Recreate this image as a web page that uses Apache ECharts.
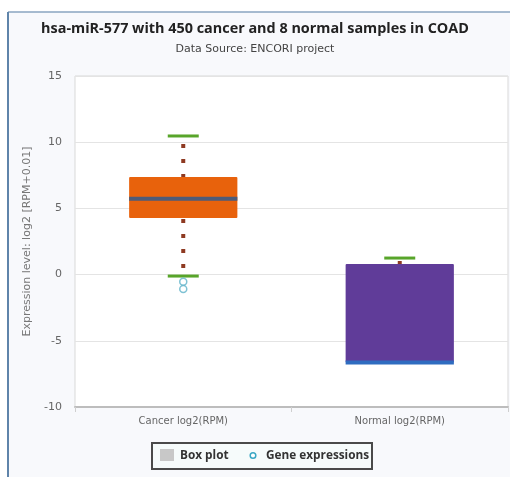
<!DOCTYPE html>
<html>
<head>
<meta charset="utf-8">
<script src="https://cdn.jsdelivr.net/npm/echarts@6/dist/echarts.min.js"></script>
<style>
  html, body { margin: 0; padding: 0; background: #ffffff; }
  #chart { width: 510px; height: 477px; }
</style>
</head>
<body>
<div id="chart"></div>
<script>
// Sample groups shown on the x axis
const categories = ['Cancer log2(RPM)', 'Normal log2(RPM)'];
// Five-number summaries per group: lower whisker, Q1, median, Q3, upper whisker
const lowerWhisker = [-0.11, -6.64];
const q1Values     = [4.27, -6.64];
const medians      = [5.72, -6.64];
const q3Values     = [7.37, 0.80];
const upperWhisker = [10.47, 1.25];
// Individual expression values beyond the whiskers: [group index, value]
const outliers = [[0, -0.54], [0, -1.09]];
// Y axis ticks
const yTicks = { min: -10, max: 15, step: 5 };
// Box fill and median colours per group
const boxColors = ['#e8620c', '#603c99'];
const medianColors = ['#4d5b78', '#2f6cc0'];

const boxData = categories.map((c, i) => [i, lowerWhisker[i], q1Values[i], medians[i], q3Values[i], upperWhisker[i]]);

function renderBox(params, api) {
  const idx = api.value(0);
  const low = api.coord([idx, api.value(1)]);
  const q1 = api.coord([idx, api.value(2)]);
  const med = api.coord([idx, api.value(3)]);
  const q3 = api.coord([idx, api.value(4)]);
  const high = api.coord([idx, api.value(5)]);
  const band = api.size([1, 0])[0];
  const boxW = band * 0.5;
  const capW = 31;
  const cx = q3[0];
  const dotStyle = { stroke: '#8e3a22', lineWidth: 4, lineDash: [4, 11], fill: null };
  const children = [];
  if (high[1] < q3[1]) {
    children.push({ type: 'line', shape: { x1: cx, y1: q3[1] + 1, x2: cx, y2: high[1] }, style: dotStyle });
  }
  if (low[1] > q1[1]) {
    children.push({ type: 'line', shape: { x1: cx, y1: q1[1] + 1, x2: cx, y2: low[1] }, style: dotStyle });
  }
  children.push({
    type: 'rect',
    shape: { x: cx - boxW / 2, y: q3[1], width: boxW, height: Math.max(q1[1] - q3[1], 1), r: 1 },
    style: { fill: boxColors[idx] }
  });
  children.push({
    type: 'line',
    shape: { x1: cx - boxW / 2, y1: med[1], x2: cx + boxW / 2, y2: med[1] },
    style: { stroke: medianColors[idx], lineWidth: 4 }
  });
  children.push({
    type: 'line',
    shape: { x1: cx - capW / 2, y1: high[1], x2: cx + capW / 2, y2: high[1] },
    style: { stroke: '#58a52a', lineWidth: 3 }
  });
  if (low[1] > q1[1] + 1) {
    children.push({
      type: 'line',
      shape: { x1: cx - capW / 2, y1: low[1], x2: cx + capW / 2, y2: low[1] },
      style: { stroke: '#58a52a', lineWidth: 3 }
    });
  }
  return { type: 'group', children };
}

const chart = echarts.init(document.getElementById('chart'), null, { renderer: 'canvas' });
chart.setOption({
  animation: false,
  title: {
    text: 'hsa-miR-577 with 450 cancer and 8 normal samples in COAD',
    subtext: 'Data Source: ENCORI project',
    left: 'center',
    top: 17,
    itemGap: 8,
    textStyle: { fontFamily: 'Open Sans', fontSize: 14.4, fontWeight: 'bold', color: '#222' },
    subtextStyle: { fontFamily: 'DejaVu Sans', fontSize: 11, color: '#444' }
  },
  graphic: [
    // Panel background with its left and top border
    { type: 'rect', z: -10, shape: { x: 8, y: 12, width: 502, height: 465 }, style: { fill: '#f8f9fc' } },
    { type: 'line', z: -9, shape: { x1: 8, y1: 12, x2: 510, y2: 12 }, style: { stroke: '#8aa4c0', lineWidth: 1.5 } },
    { type: 'line', z: -9, shape: { x1: 8, y1: 12, x2: 8, y2: 477 }, style: { stroke: '#5f84aa', lineWidth: 2 } },
    // Legend box
    {
      type: 'group', left: 151, top: 442,
      children: [
        { type: 'rect', shape: { x: 0, y: 0, width: 220, height: 26 }, style: { fill: '#f6fbfb', stroke: '#4a4a4a', lineWidth: 2 } },
        { type: 'rect', shape: { x: 8, y: 6, width: 14, height: 12 }, style: { fill: '#c8c8c8' } },
        { type: 'text', x: 28, y: 13, style: { text: 'Box plot', fontFamily: 'Open Sans', fontSize: 11.8, fontWeight: 'bold', fill: '#333', verticalAlign: 'middle' } },
        { type: 'circle', shape: { cx: 101, cy: 12.5, r: 2.8 }, style: { fill: '#fff', stroke: '#3aa7c4', lineWidth: 1.5 } },
        { type: 'text', x: 114, y: 13, style: { text: 'Gene expressions', fontFamily: 'Open Sans', fontSize: 11.8, fontWeight: 'bold', fill: '#333', verticalAlign: 'middle' } }
      ]
    }
  ],
  grid: {
    left: 75, top: 76, right: 2, bottom: 70,
    show: true, backgroundColor: '#ffffff', borderColor: '#d9d9d9', borderWidth: 1
  },
  xAxis: {
    type: 'category',
    data: categories,
    boundaryGap: true,
    axisLine: { onZero: false, lineStyle: { color: '#bdbdbd', width: 2 } },
    axisTick: { show: true, interval: 0, length: 5, lineStyle: { color: '#cfcfcf' } },
    axisLabel: { fontFamily: 'DejaVu Sans', fontSize: 10, color: '#666', margin: 9 },
    splitLine: { show: false }
  },
  yAxis: {
    type: 'value',
    min: yTicks.min, max: yTicks.max, interval: yTicks.step,
    name: 'Expression level: log2 [RPM+0.01]',
    nameLocation: 'middle',
    nameGap: 40,
    nameTextStyle: { fontFamily: 'DejaVu Sans', fontSize: 11, color: '#777' },
    axisLine: { show: false },
    axisTick: { show: false },
    axisLabel: { fontFamily: 'DejaVu Sans', fontSize: 11, color: '#666', margin: 13 },
    splitLine: { lineStyle: { color: '#e4e4e4' } }
  },
  series: [
    {
      name: 'Box plot',
      type: 'custom',
      renderItem: renderBox,
      encode: { x: 0, y: [1, 2, 3, 4, 5] },
      data: boxData,
      z: 2
    },
    {
      name: 'Gene expressions',
      type: 'scatter',
      data: outliers,
      symbol: 'circle',
      symbolSize: 7,
      itemStyle: { color: '#ffffff', borderColor: '#5fb3c9', borderWidth: 1.5 },
      z: 3
    }
  ]
});
</script>
</body>
</html>
